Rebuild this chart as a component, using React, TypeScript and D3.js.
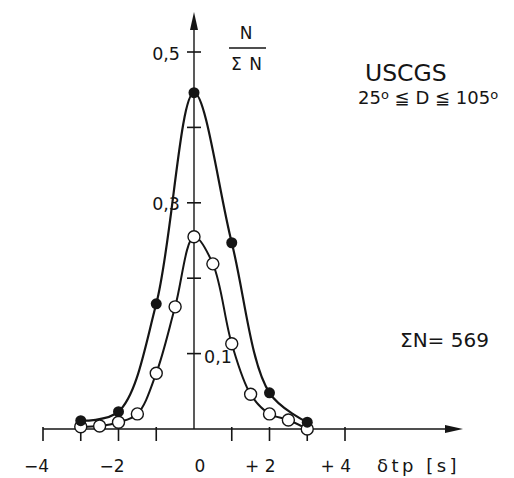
import React from "react";
import * as d3 from "d3";

// Relative frequency N/ΣN of travel-time residuals δtp, USCGS data, 25° ≤ D ≤ 105°
const filledX = [-3, -2, -1, 0, 1, 2, 3];
const filledY = [0.011, 0.023, 0.166, 0.446, 0.247, 0.048, 0.009];

const openX = [-3, -2.5, -2, -1.5, -1, -0.5, 0, 0.5, 1, 1.5, 2, 2.5, 3];
const openY = [0.003, 0.004, 0.009, 0.02, 0.074, 0.162, 0.255, 0.219, 0.113, 0.046, 0.02, 0.012, 0.0];

const xTicks = [-4, -3, -2, -1, 1, 2, 3, 4];
const xLabels = [
  { v: -4, t: "−4" },
  { v: -2, t: "−2" },
  { v: 0, t: "0" },
  { v: 2, t: "+ 2" },
  { v: 4, t: "+ 4" },
];
const yTicks = [0.1, 0.2, 0.3, 0.4, 0.5];
const yLabels = [
  { v: 0.5, t: "0,5", side: "left" },
  { v: 0.3, t: "0,3", side: "left" },
  { v: 0.1, t: "0,1", side: "right" },
];

const W = 514;
const H = 478;
const ink = "#151515";
const font = "'DejaVu Sans', Verdana, sans-serif";

export default function App() {
  const x = d3.scaleLinear().domain([-4, 4]).range([43, 345]);
  const y = d3.scaleLinear().domain([0, 0.5]).range([429, 52]);

  const line = d3
    .line<[number, number]>()
    .x((d) => x(d[0]))
    .y((d) => y(d[1]))
    .curve(d3.curveCatmullRom.alpha(0.5));

  const filled: [number, number][] = filledX.map((v, i) => [v, filledY[i]]);
  const open: [number, number][] = openX.map((v, i) => [v, openY[i]]);

  const x0 = x(0);
  const yBase = y(0);
  const axisRight = 463;
  const axisTop = 12;

  return (
    <svg
      width={W}
      height={H}
      style={{ position: "absolute", left: 0, top: 0, background: "#fff" }}
      fontFamily={font}
      fill={ink}
    >
      {/* axes */}
      <line x1={x(-4)} y1={yBase} x2={axisRight - 8} y2={yBase} stroke={ink} strokeWidth={1.6} />
      <path d={`M${axisRight},${yBase} L${axisRight - 18},${yBase - 4} L${axisRight - 18},${yBase + 4} Z`} fill={ink} />
      <line x1={x0} y1={yBase} x2={x0} y2={axisTop + 8} stroke={ink} strokeWidth={1.4} />
      <path d={`M${x0},${axisTop} L${x0 - 4},${axisTop + 18} L${x0 + 4},${axisTop + 18} Z`} fill={ink} />

      {xTicks.map((v) => (
        <line key={v} x1={x(v)} y1={yBase - 2} x2={x(v)} y2={yBase + 12} stroke={ink} strokeWidth={1.6} />
      ))}
      {yTicks.map((v) => (
        <line key={v} x1={x0 - 7} y1={y(v)} x2={x0 + 7} y2={y(v)} stroke={ink} strokeWidth={1.6} />
      ))}

      {xLabels.map((d) => (
        <text
          key={d.v}
          x={x(d.v) + 6}
          y={472}
          fontSize={17}
          textAnchor={d.v === 0 ? "middle" : "end"}
        >
          {d.t}
        </text>
      ))}
      <text x={377} y={472} fontSize={18} letterSpacing={3.5}>
        δtp [s]
      </text>

      {yLabels.map((d) => (
        <text
          key={d.v}
          x={d.side === "left" ? x0 - 14 : x0 + 10}
          y={y(d.v) + (d.side === "left" ? 7.5 : 9)}
          fontSize={17.5}
          textAnchor={d.side === "left" ? "end" : "start"}
        >
          {d.t}
        </text>
      ))}

      {/* y-axis quantity N / ΣN */}
      <text x={246} y={39} fontSize={17} textAnchor="middle">N</text>
      <line x1={229} y1={48} x2={266} y2={48} stroke={ink} strokeWidth={1.4} />
      <text x={247} y={70} fontSize={17} textAnchor="middle" letterSpacing={1}>Σ N</text>

      <text x={365} y={81} fontSize={23.5}>USCGS</text>
      <text x={358} y={104} fontSize={18}>
        25<tspan dy={-5} fontSize={13}>o</tspan>
        <tspan dy={5}> ≦ D ≦ 105</tspan>
        <tspan dy={-5} fontSize={13}>o</tspan>
      </text>
      <text x={400} y={347} fontSize={20}>ΣN= 569</text>

      {/* curves */}
      <path d={line(open) ?? ""} fill="none" stroke={ink} strokeWidth={2} />
      <path d={line(filled) ?? ""} fill="none" stroke={ink} strokeWidth={2.2} />

      {open.map((d, i) => (
        <circle key={`o${i}`} cx={x(d[0])} cy={y(d[1])} r={6} fill="#fff" stroke={ink} strokeWidth={1.4} />
      ))}
      {filled.map((d, i) => (
        <circle key={`f${i}`} cx={x(d[0])} cy={y(d[1])} r={5.5} fill={ink} />
      ))}
    </svg>
  );
}
